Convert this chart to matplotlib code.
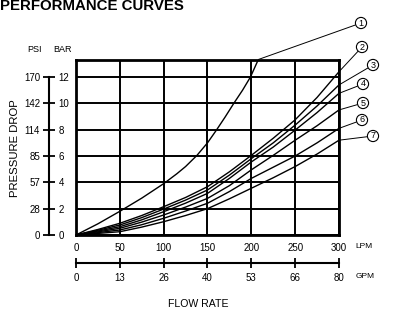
import matplotlib
matplotlib.use('Agg')
import matplotlib.pyplot as plt
import numpy as np

plt.rcParams['font.family'] = ['Liberation Sans', 'DejaVu Sans']

# ---------------- data ----------------
flow_lpm = [0, 25, 50, 75, 100, 125, 150, 175, 200, 225, 250, 275, 300]
lpm_ticks = [0, 50, 100, 150, 200, 250, 300]
gpm_labels = ['0', '13', '26', '40', '53', '66', '80']
bar_ticks = [0, 2, 4, 6, 8, 10, 12]
psi_labels = ['0', '28', '57', '85', '114', '142', '170']

curve1_lpm = [0, 25, 50, 75, 100, 115, 125, 138, 150, 160, 170, 180, 190, 199, 208, 212]
curve1_bar = [0, 0.85, 1.8, 2.8, 3.9, 4.65, 5.2, 6.05, 7.0, 7.95, 8.95, 10.0, 11.0, 12.0, 13.33, 13.9]

curve2_bar = [0, 0.42, 0.89, 1.48, 2.15, 2.85, 3.67, 4.8, 6.05, 7.35, 8.75, 10.45, 12.4]
curve3_bar = [0, 0.36, 0.76, 1.32, 1.97, 2.65, 3.42, 4.55, 5.8, 7.0, 8.35, 9.8, 11.4]
curve4_bar = [0, 0.3, 0.63, 1.15, 1.77, 2.42, 3.16, 4.3, 5.55, 6.68, 7.97, 9.3, 10.76]
curve5_bar = [0, 0.24, 0.51, 0.98, 1.52, 2.12, 2.78, 3.75, 4.95, 6.05, 7.2, 8.3, 9.5]
curve6_bar = [0, 0.18, 0.38, 0.78, 1.27, 1.82, 2.41, 3.3, 4.3, 5.15, 6.0, 7.0, 8.1]
curve7_bar = [0, 0.12, 0.25, 0.6, 1.01, 1.48, 2.0, 2.75, 3.55, 4.35, 5.2, 6.15, 7.2]

curve_labels = ['1', '2', '3', '4', '5', '6', '7']
# circle label positions (figure pixels from top-left)
label_pos = [(361, 23), (362, 47), (373, 65), (363, 84), (363, 103), (362, 120), (373, 136)]

W, H = 400, 331
YMAX = 13.33

fig = plt.figure(figsize=(W / 100, H / 100), dpi=100)

def fx(px):
    return px / W

def fy(py):
    return 1 - py / H

# main axes
left, right, top, bottom = 76, 339, 59.5, 235
ax = fig.add_axes([fx(left), fy(bottom), (right - left) / W, (bottom - top) / H])
ax.set_xlim(0, 300)
ax.set_ylim(0, YMAX)
ax.set_xticks(lpm_ticks)
ax.set_xticklabels([str(v) for v in lpm_ticks], fontsize=7)
ax.set_yticks(bar_ticks)
ax.set_yticklabels([])
ax.tick_params(axis='both', length=0, pad=6)
ax.grid(True, color='black', lw=1.4)
ax.set_axisbelow(True)
for s in ax.spines.values():
    s.set_linewidth(2.0)
    s.set_color('black')

ax.plot(curve1_lpm, curve1_bar, color='black', lw=1.0)
all_curves = [curve2_bar, curve3_bar, curve4_bar, curve5_bar, curve6_bar, curve7_bar]
for c in all_curves:
    ax.plot(flow_lpm, c, color='black', lw=1.0)

# curve labels with leaders
ends = [(float(np.interp(YMAX, curve1_bar, curve1_lpm)), YMAX)] + [(flow_lpm[-1], c[-1]) for c in all_curves]
for lab, (px, py), xy in zip(curve_labels, label_pos, ends):
    ax.annotate(lab, xy=xy, xycoords='data', xytext=(px, H - py), textcoords='figure pixels',
                ha='center', va='center', fontsize=6.5,
                bbox=dict(boxstyle='circle,pad=0.12', fc='white', ec='black', lw=0.8),
                arrowprops=dict(arrowstyle='-', color='black', lw=0.7, shrinkA=0, shrinkB=0),
                annotation_clip=False)

# left pressure scale
axl = fig.add_axes([fx(49), fy(bottom), 0.0001, (bottom - top) / H])
axl.set_ylim(0, YMAX)
axl.set_xticks([])
for k in ['top', 'right', 'bottom']:
    axl.spines[k].set_visible(False)
axl.spines['left'].set_bounds(0, 12)
axl.spines['left'].set_linewidth(1.5)
axl.set_yticks(bar_ticks)
axl.set_yticklabels(psi_labels, fontsize=7)
axl.tick_params(axis='y', direction='inout', length=9, width=1.3, pad=2)
axr = axl.twinx()
axr.set_ylim(0, YMAX)
for k in ['top', 'left', 'bottom', 'right']:
    axr.spines[k].set_visible(False)
axr.set_yticks(bar_ticks)
axr.set_yticklabels([str(v) for v in bar_ticks], fontsize=7)
axr.tick_params(axis='y', length=0, pad=7)

fig.text(fx(35), fy(49), 'PSI', fontsize=6.5, ha='center', va='center')
fig.text(fx(62), fy(49), 'BAR', fontsize=6.5, ha='center', va='center')
fig.text(fx(15), fy(148), 'PRESSURE DROP', fontsize=8.2, rotation=90, ha='center', va='center')

# GPM scale
axg = fig.add_axes([fx(left), fy(262.7), (right - left) / W, 0.0001])
axg.set_xlim(0, 300)
axg.set_yticks([])
for k in ['top', 'right', 'left']:
    axg.spines[k].set_visible(False)
axg.spines['bottom'].set_bounds(0, 300)
axg.spines['bottom'].set_linewidth(1.5)
axg.set_xticks(lpm_ticks)
axg.set_xticklabels(gpm_labels, fontsize=7)
axg.tick_params(axis='x', direction='inout', length=7, width=1.3, pad=4)

fig.text(fx(355), fy(247), 'LPM', fontsize=6, ha='left', va='center')
fig.text(fx(356), fy(277), 'GPM', fontsize=6, ha='left', va='center')
fig.text(fx(198), fy(304), 'FLOW RATE', fontsize=7.6, ha='center', va='center')
fig.text(0.0, fy(6.5), 'PERFORMANCE CURVES', fontsize=10.8, fontweight='bold', ha='left', va='center')

fig.savefig('out.png', dpi=100)
